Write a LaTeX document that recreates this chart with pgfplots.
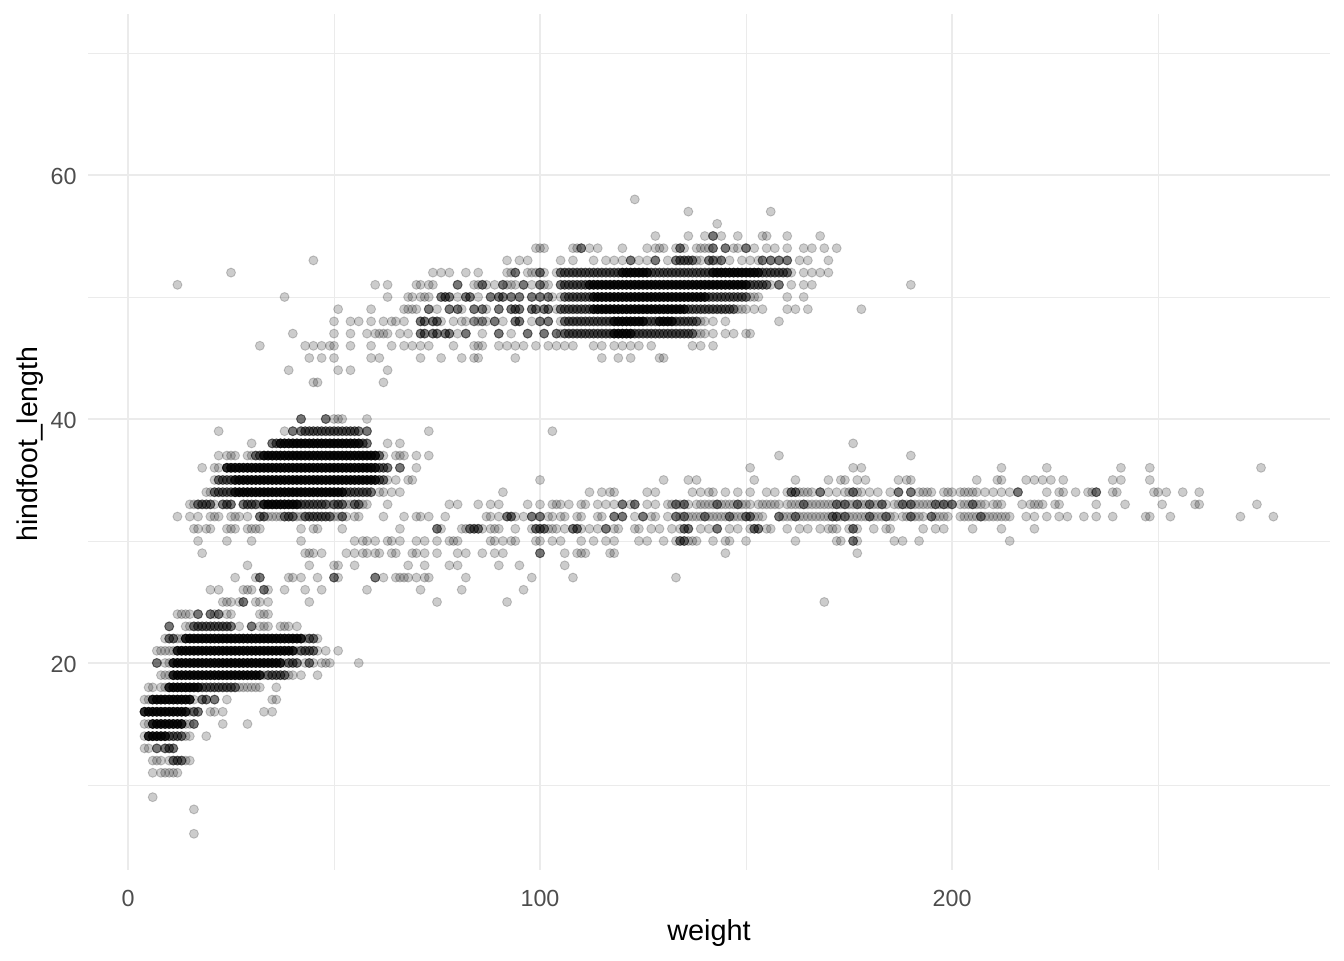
\documentclass[border=0pt]{standalone}
\usepackage{fontspec}
\setmainfont{Liberation Sans}
\usepackage{pgfplots}
\pgfplotsset{compat=1.18}
\definecolor{gridc}{HTML}{EBEBEB}
\definecolor{tickc}{HTML}{4D4D4D}
\begin{document}
\begin{tikzpicture}[x=1bp,y=1bp]
\path (0,0) rectangle (1344,960);
\begin{axis}[
  at={(88bp,90bp)},anchor=south west,
  scale only axis,width=1242bp,height=856bp,
  xmin=-9.71,xmax=291.75,ymin=3.03,ymax=73.2,
  xtick={0,100,200},ytick={20,40,60},
  minor xtick={50,150,250},minor ytick={10,30,50,70},
  grid=both,
  major grid style={gridc,line width=1.5bp},
  minor grid style={gridc,line width=0.8bp},
  axis line style={draw=none},
  major tick length=0pt,minor tick length=0pt,
  tick style={draw=none},
  /pgf/number format/assume math mode=true,
  tick label style={font=\fontsize{23.4}{25}\selectfont,text=tickc},
  xticklabel style={yshift=-16.5bp},
  yticklabel style={xshift=-8bp,yshift=-1bp},
  xlabel={weight},ylabel={hindfoot\_length},
  label style={text=black},
  xlabel style={font=\fontsize{29}{32}\selectfont,at={(axis description cs:0.5,-0.0818)},anchor=base},
  ylabel style={font=\fontsize{28.6}{32}\selectfont,at={(axis description cs:-0.041,0.4977)},anchor=base},
  clip=false,
]
% every distinct observation, one pass
\addplot[only marks,mark=*,mark size=4.5bp,mark options={fill=black,draw=black,fill opacity=.2,draw opacity=.2,line width=0.9bp}] coordinates {
(16,6) (16,8) (6,9)
(6,11) (8,11) (9,11) (10,11) (11,11) (12,11)
(6,12) (7,12) (8,12) (10,12) (11,12) (12,12) (13,12) (14,12) (15,12)
(4,13) (5,13) (7,13) (9,13) (10,13) (11,13)
(4,14) (5,14) (6,14) (7,14) (8,14) (9,14) (10,14) (11,14) (12,14) (13,14) (14,14) (15,14) (19,14)
(4,15) (5,15) (6,15) (7,15) (8,15) (9,15) (10,15) (11,15) (12,15) (13,15) (14,15) (15,15) (16,15) (23,15) (29,15)
(4,16) (5,16) (6,16) (7,16) (8,16) (9,16) (10,16) (11,16) (12,16) (13,16) (14,16) (15,16) (16,16) (17,16) (20,16) (21,16) (23,16) (33,16) (35,16)
(4,17) (5,17) (6,17) (7,17) (8,17) (9,17) (10,17) (11,17) (12,17) (13,17) (14,17) (15,17) (16,17) (18,17) (19,17) (21,17) (24,17) (35,17) (36,17)
(5,18) (6,18) (8,18) (9,18) (10,18) (11,18) (12,18) (13,18) (14,18) (15,18) (16,18) (17,18) (18,18) (19,18) (20,18) (21,18) (22,18) (23,18) (24,18) (25,18) (26,18) (27,18) (28,18) (29,18) (30,18) (31,18) (32,18) (36,18)
(8,19) (9,19) (10,19) (11,19) (12,19) (13,19) (14,19) (15,19) (16,19) (17,19) (18,19) (19,19) (20,19) (21,19) (22,19) (23,19) (24,19) (25,19) (26,19) (27,19) (28,19) (29,19) (30,19) (31,19) (32,19) (33,19) (34,19) (35,19) (36,19) (37,19) (38,19) (39,19) (40,19) (42,19) (46,19)
(7,20) (9,20) (10,20) (11,20) (12,20) (13,20) (14,20) (15,20) (16,20) (17,20) (18,20) (19,20) (20,20) (21,20) (22,20) (23,20) (24,20) (25,20) (26,20) (27,20) (28,20) (29,20) (30,20) (31,20) (32,20) (33,20) (34,20) (35,20) (36,20) (37,20) (38,20) (39,20) (40,20) (41,20) (43,20) (44,20) (45,20) (47,20) (48,20) (49,20) (56,20)
(7,21) (8,21) (9,21) (10,21) (11,21) (12,21) (13,21) (14,21) (15,21) (16,21) (17,21) (18,21) (19,21) (20,21) (21,21) (22,21) (23,21) (24,21) (25,21) (26,21) (27,21) (28,21) (29,21) (30,21) (31,21) (32,21) (33,21) (34,21) (35,21) (36,21) (37,21) (38,21) (39,21) (40,21) (41,21) (42,21) (43,21) (44,21) (45,21) (46,21) (48,21) (51,21)
(9,22) (10,22) (11,22) (12,22) (13,22) (14,22) (15,22) (16,22) (17,22) (18,22) (19,22) (20,22) (21,22) (22,22) (23,22) (24,22) (25,22) (26,22) (27,22) (28,22) (29,22) (30,22) (31,22) (32,22) (33,22) (34,22) (35,22) (36,22) (37,22) (38,22) (39,22) (40,22) (41,22) (42,22) (43,22) (44,22) (45,22) (46,22)
(10,23) (14,23) (15,23) (16,23) (17,23) (18,23) (19,23) (20,23) (21,23) (22,23) (23,23) (24,23) (25,23) (27,23) (30,23) (32,23) (33,23) (34,23) (37,23) (38,23) (39,23) (41,23)
(12,24) (13,24) (14,24) (15,24) (17,24) (20,24) (21,24) (22,24) (24,24) (25,24) (32,24) (33,24) (34,24)
(23,25) (24,25) (25,25) (27,25) (28,25) (31,25) (32,25) (34,25) (44,25) (75,25) (92,25) (169,25)
(20,26) (22,26) (28,26) (29,26) (30,26) (33,26) (34,26) (38,26) (43,26) (47,26) (58,26) (71,26) (81,26) (96,26)
(26,27) (31,27) (32,27) (39,27) (40,27) (42,27) (46,27) (50,27) (51,27) (60,27) (62,27) (65,27) (66,27) (67,27) (68,27) (70,27) (72,27) (73,27) (82,27) (98,27) (108,27) (133,27)
(29,28) (44,28) (50,28) (51,28) (55,28) (68,28) (72,28) (78,28) (80,28) (90,28) (95,28) (106,28)
(18,29) (43,29) (44,29) (45,29) (47,29) (53,29) (55,29) (57,29) (58,29) (60,29) (61,29) (64,29) (65,29) (69,29) (70,29) (72,29) (75,29) (80,29) (82,29) (86,29) (89,29) (91,29) (100,29) (106,29) (109,29) (110,29) (111,29) (117,29) (118,29) (145,29) (177,29)
(17,30) (24,30) (30,30) (42,30) (55,30) (57,30) (58,30) (60,30) (63,30) (64,30) (66,30) (70,30) (72,30) (75,30) (78,30) (79,30) (80,30) (88,30) (89,30) (91,30) (93,30) (94,30) (99,30) (100,30) (103,30) (105,30) (110,30) (113,30) (116,30) (118,30) (124,30) (126,30) (130,30) (133,30) (134,30) (135,30) (136,30) (137,30) (138,30) (142,30) (145,30) (146,30) (150,30) (162,30) (172,30) (173,30) (176,30) (177,30) (186,30) (188,30) (192,30) (214,30)
(16,31) (17,31) (19,31) (20,31) (24,31) (25,31) (26,31) (29,31) (30,31) (31,31) (32,31) (42,31) (45,31) (46,31) (52,31) (66,31) (75,31) (76,31) (81,31) (82,31) (83,31) (84,31) (85,31) (86,31) (88,31) (89,31) (90,31) (94,31) (98,31) (99,31) (100,31) (101,31) (102,31) (103,31) (104,31) (106,31) (108,31) (109,31) (110,31) (112,31) (114,31) (116,31) (118,31) (119,31) (123,31) (124,31) (127,31) (129,31) (132,31) (134,31) (135,31) (136,31) (139,31) (141,31) (143,31) (146,31) (148,31) (151,31) (152,31) (153,31) (155,31) (156,31) (160,31) (163,31) (165,31) (168,31) (170,31) (171,31) (172,31) (175,31) (176,31) (177,31) (181,31) (184,31) (185,31) (193,31) (196,31) (198,31) (205,31) (212,31) (220,31)
(12,32) (15,32) (17,32) (20,32) (21,32) (22,32) (25,32) (26,32) (27,32) (29,32) (32,32) (33,32) (34,32) (35,32) (36,32) (37,32) (38,32) (39,32) (40,32) (41,32) (42,32) (43,32) (44,32) (45,32) (46,32) (47,32) (48,32) (49,32) (50,32) (51,32) (52,32) (53,32) (55,32) (56,32) (62,32) (67,32) (70,32) (71,32) (73,32) (77,32) (87,32) (88,32) (90,32) (92,32) (93,32) (94,32) (96,32) (98,32) (100,32) (102,32) (103,32) (105,32) (106,32) (109,32) (110,32) (114,32) (115,32) (118,32) (120,32) (123,32) (125,32) (127,32) (128,32) (131,32) (133,32) (134,32) (135,32) (136,32) (137,32) (138,32) (139,32) (140,32) (141,32) (142,32) (143,32) (144,32) (145,32) (146,32) (147,32) (148,32) (149,32) (150,32) (151,32) (152,32) (153,32) (154,32) (158,32) (159,32) (160,32) (161,32) (162,32) (163,32) (164,32) (165,32) (166,32) (167,32) (168,32) (169,32) (170,32) (171,32) (172,32) (173,32) (174,32) (175,32) (176,32) (177,32) (178,32) (179,32) (180,32) (181,32) (182,32) (183,32) (184,32) (185,32) (186,32) (188,32) (189,32) (190,32) (191,32) (192,32) (193,32) (195,32) (196,32) (197,32) (198,32) (199,32) (202,32) (203,32) (204,32) (205,32) (206,32) (207,32) (208,32) (209,32) (210,32) (211,32) (212,32) (213,32) (214,32) (218,32) (220,32) (223,32) (226,32) (228,32) (232,32) (235,32) (239,32) (247,32) (248,32) (253,32) (270,32) (278,32)
(15,33) (16,33) (17,33) (18,33) (19,33) (20,33) (21,33) (23,33) (24,33) (25,33) (28,33) (29,33) (30,33) (31,33) (32,33) (33,33) (34,33) (35,33) (36,33) (37,33) (38,33) (39,33) (40,33) (41,33) (42,33) (43,33) (44,33) (45,33) (46,33) (47,33) (48,33) (49,33) (50,33) (51,33) (52,33) (53,33) (54,33) (55,33) (56,33) (57,33) (58,33) (63,33) (78,33) (80,33) (85,33) (88,33) (90,33) (97,33) (100,33) (103,33) (104,33) (105,33) (107,33) (110,33) (111,33) (114,33) (116,33) (118,33) (120,33) (122,33) (123,33) (126,33) (128,33) (131,33) (132,33) (133,33) (134,33) (135,33) (136,33) (138,33) (139,33) (140,33) (141,33) (142,33) (143,33) (144,33) (145,33) (146,33) (147,33) (148,33) (149,33) (150,33) (151,33) (153,33) (154,33) (155,33) (156,33) (157,33) (158,33) (160,33) (161,33) (162,33) (163,33) (164,33) (165,33) (166,33) (167,33) (168,33) (169,33) (170,33) (171,33) (172,33) (173,33) (174,33) (175,33) (176,33) (177,33) (178,33) (179,33) (180,33) (181,33) (182,33) (183,33) (184,33) (186,33) (187,33) (188,33) (189,33) (190,33) (191,33) (192,33) (193,33) (194,33) (195,33) (196,33) (197,33) (198,33) (199,33) (200,33) (202,33) (203,33) (204,33) (205,33) (206,33) (207,33) (208,33) (210,33) (211,33) (212,33) (217,33) (219,33) (220,33) (221,33) (222,33) (225,33) (226,33) (235,33) (242,33) (251,33) (259,33) (260,33) (274,33)
(19,34) (20,34) (21,34) (22,34) (23,34) (24,34) (25,34) (26,34) (27,34) (28,34) (29,34) (30,34) (31,34) (32,34) (33,34) (34,34) (35,34) (36,34) (37,34) (38,34) (39,34) (40,34) (41,34) (42,34) (43,34) (44,34) (45,34) (46,34) (47,34) (48,34) (49,34) (50,34) (51,34) (52,34) (53,34) (54,34) (55,34) (56,34) (57,34) (58,34) (59,34) (61,34) (62,34) (64,34) (66,34) (91,34) (112,34) (115,34) (117,34) (118,34) (126,34) (128,34) (137,34) (139,34) (141,34) (142,34) (145,34) (148,34) (151,34) (155,34) (157,34) (160,34) (161,34) (162,34) (163,34) (164,34) (165,34) (166,34) (168,34) (170,34) (172,34) (174,34) (175,34) (176,34) (177,34) (178,34) (180,34) (182,34) (185,34) (187,34) (190,34) (192,34) (193,34) (194,34) (195,34) (198,34) (199,34) (200,34) (202,34) (203,34) (204,34) (205,34) (206,34) (208,34) (210,34) (212,34) (214,34) (216,34) (223,34) (226,34) (227,34) (230,34) (233,34) (234,34) (235,34) (239,34) (240,34) (249,34) (250,34) (252,34) (256,34) (260,34)
(21,35) (22,35) (23,35) (24,35) (25,35) (26,35) (27,35) (28,35) (29,35) (30,35) (31,35) (32,35) (33,35) (34,35) (35,35) (36,35) (37,35) (38,35) (39,35) (40,35) (41,35) (42,35) (43,35) (44,35) (45,35) (46,35) (47,35) (48,35) (49,35) (50,35) (51,35) (52,35) (53,35) (54,35) (55,35) (56,35) (57,35) (58,35) (59,35) (60,35) (61,35) (62,35) (63,35) (65,35) (68,35) (69,35) (100,35) (130,35) (136,35) (138,35) (152,35) (162,35) (170,35) (173,35) (174,35) (177,35) (179,35) (187,35) (189,35) (190,35) (206,35) (211,35) (212,35) (218,35) (220,35) (222,35) (224,35) (227,35) (239,35) (241,35) (248,35)
(18,36) (21,36) (22,36) (24,36) (25,36) (26,36) (27,36) (28,36) (29,36) (30,36) (31,36) (32,36) (33,36) (34,36) (35,36) (36,36) (37,36) (38,36) (39,36) (40,36) (41,36) (42,36) (43,36) (44,36) (45,36) (46,36) (47,36) (48,36) (49,36) (50,36) (51,36) (52,36) (53,36) (54,36) (55,36) (56,36) (57,36) (58,36) (59,36) (60,36) (61,36) (62,36) (63,36) (66,36) (70,36) (151,36) (176,36) (178,36) (212,36) (223,36) (241,36) (248,36) (275,36)
(22,37) (24,37) (25,37) (26,37) (29,37) (30,37) (31,37) (32,37) (33,37) (34,37) (35,37) (36,37) (37,37) (38,37) (39,37) (40,37) (41,37) (42,37) (43,37) (44,37) (45,37) (46,37) (47,37) (48,37) (49,37) (50,37) (51,37) (52,37) (53,37) (54,37) (55,37) (56,37) (57,37) (58,37) (59,37) (60,37) (61,37) (62,37) (65,37) (66,37) (67,37) (70,37) (73,37) (158,37) (190,37)
(30,38) (35,38) (36,38) (37,38) (38,38) (39,38) (40,38) (41,38) (42,38) (43,38) (44,38) (45,38) (46,38) (47,38) (48,38) (49,38) (50,38) (51,38) (52,38) (53,38) (54,38) (55,38) (56,38) (57,38) (58,38) (63,38) (66,38) (176,38)
(22,39) (38,39) (40,39) (42,39) (43,39) (44,39) (45,39) (46,39) (47,39) (48,39) (49,39) (50,39) (51,39) (52,39) (53,39) (54,39) (55,39) (56,39) (58,39) (73,39) (103,39)
(42,40) (48,40) (50,40) (51,40) (52,40) (58,40)
(45,43) (46,43) (62,43)
(39,44) (51,44) (54,44) (63,44)
(44,45) (47,45) (50,45) (59,45) (61,45) (71,45) (76,45) (81,45) (84,45) (85,45) (94,45) (115,45) (119,45) (122,45) (129,45) (130,45)
(32,46) (43,46) (45,46) (47,46) (49,46) (50,46) (54,46) (59,46) (64,46) (67,46) (69,46) (71,46) (73,46) (79,46) (84,46) (85,46) (86,46) (90,46) (92,46) (94,46) (96,46) (99,46) (102,46) (104,46) (106,46) (108,46) (113,46) (115,46) (118,46) (120,46) (122,46) (124,46) (127,46) (137,46) (139,46) (142,46)
(40,47) (50,47) (54,47) (58,47) (60,47) (61,47) (62,47) (63,47) (66,47) (68,47) (71,47) (72,47) (74,47) (75,47) (77,47) (78,47) (80,47) (82,47) (86,47) (90,47) (93,47) (97,47) (101,47) (104,47) (105,47) (106,47) (107,47) (108,47) (109,47) (110,47) (111,47) (112,47) (113,47) (114,47) (115,47) (116,47) (117,47) (118,47) (119,47) (120,47) (121,47) (122,47) (123,47) (124,47) (125,47) (126,47) (127,47) (128,47) (129,47) (130,47) (131,47) (132,47) (133,47) (134,47) (135,47) (136,47) (137,47) (138,47) (139,47) (140,47) (142,47) (145,47) (147,47) (150,47) (151,47)
(50,48) (54,48) (56,48) (59,48) (62,48) (64,48) (65,48) (67,48) (71,48) (72,48) (74,48) (75,48) (76,48) (79,48) (81,48) (82,48) (85,48) (87,48) (89,48) (91,48) (94,48) (95,48) (98,48) (100,48) (102,48) (105,48) (106,48) (107,48) (108,48) (109,48) (110,48) (111,48) (112,48) (113,48) (114,48) (115,48) (116,48) (117,48) (118,48) (119,48) (120,48) (121,48) (122,48) (123,48) (124,48) (125,48) (126,48) (127,48) (128,48) (129,48) (130,48) (131,48) (132,48) (133,48) (134,48) (135,48) (136,48) (137,48) (138,48) (139,48) (140,48) (142,48) (145,48) (158,48)
(51,49) (59,49) (67,49) (68,49) (69,49) (70,49) (73,49) (75,49) (78,49) (80,49) (81,49) (84,49) (86,49) (87,49) (90,49) (93,49) (94,49) (95,49) (98,49) (99,49) (101,49) (102,49) (104,49) (105,49) (106,49) (107,49) (108,49) (109,49) (110,49) (111,49) (112,49) (113,49) (114,49) (115,49) (116,49) (117,49) (118,49) (119,49) (120,49) (121,49) (122,49) (123,49) (124,49) (125,49) (126,49) (127,49) (128,49) (129,49) (130,49) (131,49) (132,49) (133,49) (134,49) (135,49) (136,49) (137,49) (138,49) (139,49) (140,49) (141,49) (142,49) (143,49) (144,49) (145,49) (146,49) (147,49) (148,49) (149,49) (150,49) (152,49) (154,49) (160,49) (162,49) (165,49) (178,49)
(38,50) (63,50) (68,50) (69,50) (71,50) (72,50) (73,50) (76,50) (77,50) (78,50) (80,50) (82,50) (83,50) (85,50) (88,50) (90,50) (91,50) (93,50) (95,50) (98,50) (100,50) (102,50) (103,50) (105,50) (106,50) (107,50) (108,50) (109,50) (110,50) (111,50) (112,50) (113,50) (114,50) (115,50) (116,50) (117,50) (118,50) (119,50) (120,50) (121,50) (122,50) (123,50) (124,50) (125,50) (126,50) (127,50) (128,50) (129,50) (130,50) (131,50) (132,50) (133,50) (134,50) (135,50) (136,50) (137,50) (138,50) (139,50) (140,50) (141,50) (142,50) (143,50) (144,50) (145,50) (146,50) (147,50) (148,50) (149,50) (150,50) (151,50) (152,50) (153,50) (160,50) (164,50)
(12,51) (60,51) (63,51) (70,51) (71,51) (73,51) (74,51) (80,51) (84,51) (85,51) (86,51) (87,51) (89,51) (91,51) (92,51) (93,51) (94,51) (96,51) (98,51) (100,51) (101,51) (102,51) (105,51) (106,51) (107,51) (108,51) (109,51) (110,51) (111,51) (112,51) (113,51) (114,51) (115,51) (116,51) (117,51) (118,51) (119,51) (120,51) (121,51) (122,51) (123,51) (124,51) (125,51) (126,51) (127,51) (128,51) (129,51) (130,51) (131,51) (132,51) (133,51) (134,51) (135,51) (136,51) (137,51) (138,51) (139,51) (140,51) (141,51) (142,51) (143,51) (144,51) (145,51) (146,51) (147,51) (148,51) (149,51) (150,51) (151,51) (152,51) (153,51) (154,51) (155,51) (156,51) (158,51) (161,51) (164,51) (166,51) (190,51)
(25,52) (74,52) (76,52) (78,52) (82,52) (85,52) (92,52) (93,52) (94,52) (97,52) (98,52) (99,52) (100,52) (101,52) (104,52) (105,52) (106,52) (107,52) (108,52) (109,52) (110,52) (111,52) (112,52) (113,52) (114,52) (115,52) (116,52) (117,52) (118,52) (119,52) (120,52) (121,52) (122,52) (123,52) (124,52) (125,52) (126,52) (127,52) (128,52) (129,52) (130,52) (131,52) (132,52) (133,52) (134,52) (135,52) (136,52) (137,52) (138,52) (139,52) (140,52) (141,52) (142,52) (143,52) (144,52) (145,52) (146,52) (147,52) (148,52) (149,52) (150,52) (151,52) (152,52) (153,52) (154,52) (155,52) (156,52) (157,52) (158,52) (159,52) (160,52) (161,52) (164,52) (166,52) (168,52) (170,52)
(45,53) (92,53) (95,53) (97,53) (105,53) (108,53) (113,53) (116,53) (118,53) (120,53) (122,53) (124,53) (126,53) (128,53) (131,53) (133,53) (134,53) (135,53) (136,53) (137,53) (138,53) (139,53) (141,53) (142,53) (143,53) (144,53) (146,53) (149,53) (151,53) (153,53) (154,53) (156,53) (158,53) (160,53) (163,53) (165,53) (170,53)
(99,54) (100,54) (101,54) (108,54) (109,54) (110,54) (112,54) (114,54) (120,54) (126,54) (128,54) (129,54) (130,54) (133,54) (134,54) (135,54) (138,54) (139,54) (140,54) (141,54) (142,54) (145,54) (147,54) (148,54) (150,54) (152,54) (155,54) (157,54) (160,54) (164,54) (166,54) (169,54) (172,54)
(128,55) (136,55) (140,55) (142,55) (144,55) (148,55) (154,55) (155,55) (160,55) (168,55)
(143,56) (136,57) (156,57) (123,58)
};
% second pass: values seen more than once
\addplot[only marks,mark=*,mark size=4.5bp,mark options={fill=black,draw=black,fill opacity=.42,draw opacity=.42,line width=0.9bp}] coordinates {
(11,12) (12,12) (13,12) (7,13) (9,13) (10,13) (11,13) (10,14) (11,14) (12,14) (13,14) (16,15) (16,16) (17,16) (18,17) (19,17) (21,17)
(18,18) (19,18) (20,18) (21,18) (22,18) (23,18) (24,18) (25,18) (26,18) (34,19) (35,19) (36,19) (37,19) (38,19)
(7,20) (39,20) (40,20) (41,20) (44,20) (42,21) (43,21) (44,21) (45,21) (10,22) (11,22) (44,22) (45,22)
(10,23) (16,23) (17,23) (18,23) (19,23) (20,23) (21,23) (22,23) (23,23) (24,23) (25,23) (30,23) (17,24) (20,24) (22,24) (28,25) (33,26) (32,27) (50,27) (60,27)
(100,29) (75,31) (83,31) (84,31) (85,31) (99,31) (100,31) (101,31) (108,31) (109,31) (116,31) (135,31) (136,31) (143,31) (152,31) (153,31) (176,31)
(134,30) (135,30) (176,30) (32,32) (33,32) (38,32) (39,32) (40,32) (43,32) (44,32) (45,32) (46,32) (47,32) (48,32) (49,32) (52,32) (92,32) (93,32) (98,32) (100,32) (118,32) (120,32) (125,32) (133,32) (135,32) (140,32) (146,32) (150,32) (151,32) (158,32) (162,32) (171,32) (172,32) (174,32) (180,32) (184,32) (190,32) (195,32) (207,32)
(17,33) (18,33) (19,33) (20,33) (23,33) (24,33) (25,33) (28,33) (29,33) (30,33) (31,33) (42,33) (43,33) (44,33) (45,33) (46,33) (47,33) (48,33) (50,33) (51,33) (52,33) (55,33) (56,33) (120,33) (123,33) (133,33) (135,33) (143,33) (148,33) (164,33) (172,33) (174,33) (177,33) (180,33) (183,33) (188,33) (190,33) (196,33) (198,33) (200,33) (205,33)
(21,34) (22,34) (23,34) (24,34) (25,34) (53,34) (54,34) (55,34) (56,34) (57,34) (58,34) (59,34) (161,34) (162,34) (168,34) (176,34) (187,34) (190,34) (216,34) (235,34)
(22,35) (23,35) (24,35) (25,35) (61,35) (62,35) (61,36) (62,36) (63,36) (66,36) (31,37) (32,37) (61,37) (35,38) (36,38) (57,38) (58,38)
(40,39) (42,39) (43,39) (44,39) (45,39) (46,39) (47,39) (48,39) (49,39) (50,39) (51,39) (52,39) (53,39) (54,39) (55,39) (56,39) (58,39) (42,40) (48,40)
(71,47) (72,47) (74,47) (75,47) (77,47) (78,47) (82,47) (90,47) (97,47) (101,47) (104,47) (106,47) (107,47) (108,47) (109,47) (110,47) (111,47) (112,47) (113,47) (114,47) (115,47) (116,47) (117,47) (123,47) (124,47) (125,47) (126,47) (127,47) (128,47) (129,47) (130,47) (131,47) (132,47) (133,47) (134,47) (135,47) (136,47) (137,47)
(71,48) (72,48) (74,48) (75,48) (84,48) (86,48) (89,48) (94,48) (95,48) (100,48) (102,48) (106,48) (107,48) (108,48) (109,48) (110,48) (111,48) (112,48) (113,48) (114,48) (115,48) (116,48) (117,48) (126,48) (127,48) (128,48) (133,48) (134,48) (135,48) (136,48) (137,48) (138,48)
(73,49) (78,49) (80,49) (84,49) (86,49) (90,49) (93,49) (94,49) (95,49) (98,49) (99,49) (101,49) (102,49) (105,49) (106,49) (107,49) (108,49) (109,49) (110,49) (111,49) (112,49) (136,49) (137,49) (138,49) (139,49) (140,49) (141,49) (142,49) (143,49) (144,49) (145,49) (146,49) (147,49)
(76,50) (77,50) (78,50) (82,50) (83,50) (88,50) (90,50) (91,50) (93,50) (95,50) (98,50) (100,50) (102,50) (106,50) (107,50) (108,50) (109,50) (110,50) (111,50) (112,50) (141,50) (142,50) (143,50) (144,50) (145,50) (146,50) (147,50) (148,50) (149,50) (150,50)
(80,51) (86,51) (91,51) (96,51) (100,51) (105,51) (106,51) (107,51) (108,51) (109,51) (110,51) (111,51) (151,51) (152,51) (153,51) (154,51) (155,51) (158,51)
(94,52) (100,52) (105,52) (106,52) (107,52) (108,52) (109,52) (110,52) (111,52) (112,52) (113,52) (114,52) (115,52) (116,52) (117,52) (118,52) (119,52) (127,52) (128,52) (129,52) (130,52) (131,52) (132,52) (133,52) (134,52) (135,52) (136,52) (137,52) (138,52) (139,52) (140,52) (141,52) (154,52) (155,52) (156,52) (157,52) (158,52) (159,52) (160,52)
(122,53) (128,53) (133,53) (134,53) (135,53) (136,53) (137,53) (141,53) (142,53) (144,53) (154,53) (156,53) (158,53) (160,53) (110,54) (134,54) (142,54) (145,54) (150,54) (142,55)
};
% third pass: the densest bands
\addplot[only marks,mark=*,mark size=4.5bp,mark options={fill=black,draw=black,fill opacity=.8,draw opacity=.8,line width=0.9bp}] coordinates {
(5,14) (6,14) (7,14) (8,14) (9,14)
(6,15) (7,15) (8,15) (9,15) (10,15) (11,15) (12,15) (13,15)
(4,16) (5,16) (6,16) (7,16) (8,16) (9,16) (10,16) (11,16) (12,16) (13,16) (14,16)
(6,17) (7,17) (8,17) (9,17) (10,17) (11,17) (12,17) (13,17) (14,17) (15,17)
(10,18) (11,18) (12,18) (13,18) (14,18) (15,18) (16,18) (17,18)
(11,19) (12,19) (13,19) (14,19) (15,19) (16,19) (17,19) (18,19) (19,19) (20,19) (21,19) (22,19) (23,19) (24,19) (25,19) (26,19) (27,19) (28,19) (29,19) (30,19) (31,19) (32,19)
(11,20) (12,20) (13,20) (14,20) (15,20) (16,20) (17,20) (18,20) (19,20) (20,20) (21,20) (22,20) (23,20) (24,20) (25,20) (26,20) (27,20) (28,20) (29,20) (30,20) (31,20) (32,20) (33,20) (34,20) (35,20) (36,20) (37,20)
(12,21) (13,21) (14,21) (15,21) (16,21) (17,21) (18,21) (19,21) (20,21) (21,21) (22,21) (23,21) (24,21) (25,21) (26,21) (27,21) (28,21) (29,21) (30,21) (31,21) (32,21) (33,21) (34,21) (35,21) (36,21) (37,21) (38,21) (39,21) (40,21)
(14,22) (15,22) (16,22) (17,22) (18,22) (19,22) (20,22) (21,22) (22,22) (23,22) (24,22) (25,22) (26,22) (27,22) (28,22) (29,22) (30,22) (31,22) (32,22) (33,22) (34,22) (35,22) (36,22) (37,22) (38,22) (39,22) (40,22) (41,22) (42,22)
(33,33) (34,33) (35,33) (36,33) (37,33) (38,33) (39,33) (40,33) (41,33)
(26,34) (27,34) (28,34) (29,34) (30,34) (31,34) (32,34) (33,34) (34,34) (35,34) (36,34) (37,34) (38,34) (39,34) (40,34) (41,34) (42,34) (43,34) (44,34) (45,34) (46,34) (47,34) (48,34) (49,34) (50,34) (51,34) (52,34)
(26,35) (27,35) (28,35) (29,35) (30,35) (31,35) (32,35) (33,35) (34,35) (35,35) (36,35) (37,35) (38,35) (39,35) (40,35) (41,35) (42,35) (43,35) (44,35) (45,35) (46,35) (47,35) (48,35) (49,35) (50,35) (51,35) (52,35) (53,35) (54,35) (55,35) (56,35) (57,35) (58,35) (59,35) (60,35)
(24,36) (25,36) (26,36) (27,36) (28,36) (29,36) (30,36) (31,36) (32,36) (33,36) (34,36) (35,36) (36,36) (37,36) (38,36) (39,36) (40,36) (41,36) (42,36) (43,36) (44,36) (45,36) (46,36) (47,36) (48,36) (49,36) (50,36) (51,36) (52,36) (53,36) (54,36) (55,36) (56,36) (57,36) (58,36) (59,36) (60,36)
(33,37) (34,37) (35,37) (36,37) (37,37) (38,37) (39,37) (40,37) (41,37) (42,37) (43,37) (44,37) (45,37) (46,37) (47,37) (48,37) (49,37) (50,37) (51,37) (52,37) (53,37) (54,37) (55,37) (56,37) (57,37) (58,37) (59,37) (60,37)
(37,38) (38,38) (39,38) (40,38) (41,38) (42,38) (43,38) (44,38) (45,38) (46,38) (47,38) (48,38) (49,38) (50,38) (51,38) (52,38) (53,38) (54,38) (55,38) (56,38)
(118,47) (119,47) (120,47) (121,47) (122,47)
(118,48) (119,48) (120,48) (121,48) (122,48) (123,48) (124,48) (125,48) (129,48) (130,48) (131,48) (132,48)
(113,49) (114,49) (115,49) (116,49) (117,49) (118,49) (119,49) (120,49) (121,49) (122,49) (123,49) (124,49) (125,49) (126,49) (127,49) (128,49) (129,49) (130,49) (131,49) (132,49) (133,49) (134,49) (135,49)
(113,50) (114,50) (115,50) (116,50) (117,50) (118,50) (119,50) (120,50) (121,50) (122,50) (123,50) (124,50) (125,50) (126,50) (127,50) (128,50) (129,50) (130,50) (131,50) (132,50) (133,50) (134,50) (135,50) (136,50) (137,50) (138,50) (139,50) (140,50)
(112,51) (113,51) (114,51) (115,51) (116,51) (117,51) (118,51) (119,51) (120,51) (121,51) (122,51) (123,51) (124,51) (125,51) (126,51) (127,51) (128,51) (129,51) (130,51) (131,51) (132,51) (133,51) (134,51) (135,51) (136,51) (137,51) (138,51) (139,51) (140,51) (141,51) (142,51) (143,51) (144,51) (145,51) (146,51) (147,51) (148,51) (149,51) (150,51)
(120,52) (121,52) (122,52) (123,52) (124,52) (125,52) (126,52) (142,52) (143,52) (144,52) (145,52) (146,52) (147,52) (148,52) (149,52) (150,52) (151,52) (152,52) (153,52)
};
\end{axis}
\end{tikzpicture}
\end{document}
